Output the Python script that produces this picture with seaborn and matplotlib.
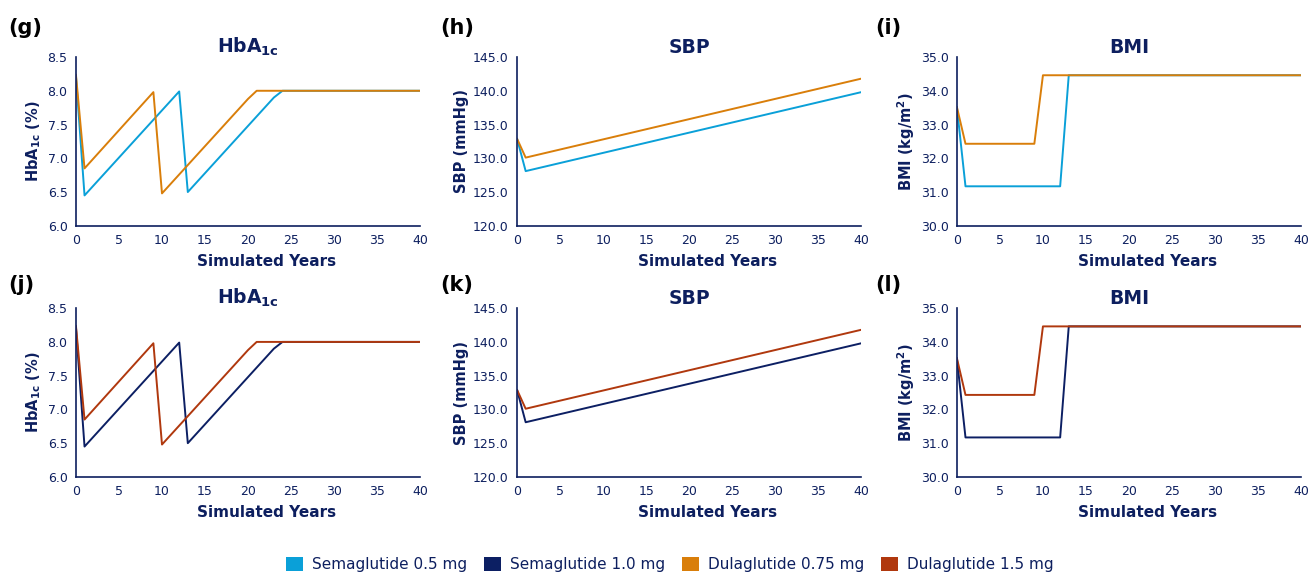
import pandas as pd
import matplotlib
matplotlib.use("Agg")
import matplotlib.pyplot as plt
from matplotlib.patches import Patch
import seaborn as sns

# breakpoints of each simulated trajectory (lines are straight between them)
hba_sema_x = [0, 1, 12, 13, 23, 24, 40]
hba_sema_y = [8.22, 6.45, 7.99, 6.50, 7.90, 8.00, 8.00]
hba_dula_x = [0, 1, 9, 10, 20, 21, 40]
hba_dula_y = [8.24, 6.85, 7.98, 6.48, 7.88, 8.00, 8.00]

sbp_sema_x = [0, 1, 40]
sbp_sema_y = [132.9, 128.1, 139.8]
sbp_dula_x = [0, 1, 40]
sbp_dula_y = [132.9, 130.1, 141.8]

bmi_sema_x = [0, 1, 12, 13, 40]
bmi_sema_y = [33.52, 31.17, 31.17, 34.46, 34.46]
bmi_dula_x = [0, 1, 9, 10, 40]
bmi_dula_y = [33.52, 32.43, 32.43, 34.46, 34.46]

treatments = ["Semaglutide 0.5 mg", "Semaglutide 1.0 mg",
              "Dulaglutide 0.75 mg", "Dulaglutide 1.5 mg"]
colors = {"Semaglutide 0.5 mg": "#0aa0d8", "Semaglutide 1.0 mg": "#0c1f63",
          "Dulaglutide 0.75 mg": "#d97e0a", "Dulaglutide 1.5 mg": "#b0380e"}

panel_labels = [["(g)", "(h)", "(i)"], ["(j)", "(k)", "(l)"]]
titles = [r"HbA$_{\mathbf{1c}}$", "SBP", "BMI"]
ylabels = [r"HbA$_{\mathbf{1c}}$ (%)", "SBP (mmHg)", r"BMI (kg/m$^{\mathbf{2}}$)"]
ylims = [(6.0, 8.5), (120.0, 145.0), (30.0, 35.0)]
yticks = [[6.0, 6.5, 7.0, 7.5, 8.0, 8.5],
          [120, 125, 130, 135, 140, 145],
          [30, 31, 32, 33, 34, 35]]

sema = [(hba_sema_x, hba_sema_y), (sbp_sema_x, sbp_sema_y), (bmi_sema_x, bmi_sema_y)]
dula = [(hba_dula_x, hba_dula_y), (sbp_dula_x, sbp_dula_y), (bmi_dula_x, bmi_dula_y)]
row_pairs = [("Semaglutide 0.5 mg", "Dulaglutide 0.75 mg"),
             ("Semaglutide 1.0 mg", "Dulaglutide 1.5 mg")]

sns.set_style("white")
plt.rcParams["font.family"] = ["DejaVu Sans"]
plt.rcParams["mathtext.fontset"] = "dejavusans"
plt.rcParams["mathtext.default"] = "bf"

navy = "#0d1f5f"
fig = plt.figure(figsize=(13.09, 5.76), dpi=100)

lefts = [0.058, 0.395, 0.731]
bottoms = [0.608, 0.172]
w, h = 0.263, 0.293

for r in range(2):
    s_name, d_name = row_pairs[r]
    for c in range(3):
        ax = fig.add_axes([lefts[c], bottoms[r], w, h])
        df = pd.concat([
            pd.DataFrame({"year": sema[c][0], "value": sema[c][1], "trt": s_name}),
            pd.DataFrame({"year": dula[c][0], "value": dula[c][1], "trt": d_name}),
        ])
        sns.lineplot(data=df, x="year", y="value", hue="trt", palette=colors,
                     linewidth=1.4, legend=False, ax=ax, sort=False)
        ax.set_xlim(0, 40)
        ax.set_ylim(*ylims[c])
        ax.set_xticks(range(0, 41, 5))
        ax.set_yticks(yticks[c])
        ax.set_yticklabels([f"{v:.1f}" for v in yticks[c]])
        for side in ["top", "right"]:
            ax.spines[side].set_visible(False)
        for side in ["left", "bottom"]:
            ax.spines[side].set_color(navy)
            ax.spines[side].set_linewidth(1.2)
        ax.tick_params(axis="y", labelsize=9, colors=navy, length=4,
                       width=1, direction="out", pad=2)
        ax.tick_params(axis="x", labelsize=9, colors=navy, length=0, pad=6)
        ax.set_xlabel("Simulated Years", fontsize=11, fontweight="bold",
                      color=navy, labelpad=0)
        ax.xaxis.set_label_coords(0.553, -0.165)
        ax.set_ylabel(ylabels[c], fontsize=10.5, fontweight="bold", color=navy,
                      labelpad=3)
        ax.set_title(titles[c], fontsize=13.5, fontweight="bold", color=navy, pad=3)
        lx = [0.006, 0.336, 0.669][c]
        ly = [0.951, 0.505][r]
        fig.text(lx, ly, panel_labels[r][c], fontsize=15, fontweight="bold",
                 color="black", va="center", ha="left")

handles = [Patch(facecolor=colors[t], edgecolor="none") for t in treatments]
fig.legend(handles, treatments, loc="center", bbox_to_anchor=(0.512, 0.02),
           ncol=4, frameon=False, fontsize=11, handlelength=1.1, handleheight=1.1,
           columnspacing=1.1, handletextpad=0.6, labelcolor=navy)

fig.savefig("out.png", dpi=100)
